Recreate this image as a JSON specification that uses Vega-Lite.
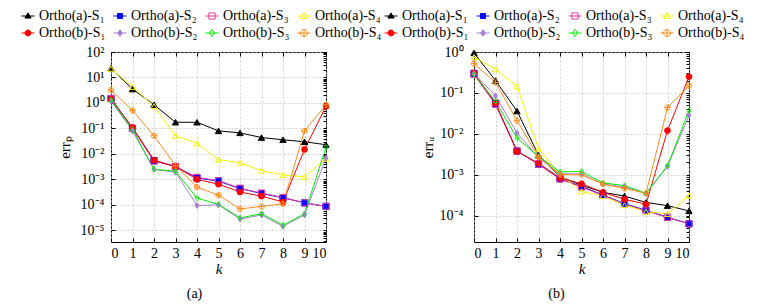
{
"$schema": "https://vega.github.io/schema/vega-lite/v6.json",
"padding": {"left": 20, "top": 8, "right": 5, "bottom": 5},
"background": "white",
"config": {
  "font": "Liberation Serif",
  "view": {"stroke": "#000", "strokeWidth": 1},
  "axis": {"labelFont": "Liberation Serif", "labelFontSize": 14, "labelColor": "#000", "titleFont": "Liberation Serif", "titleFontSize": 15, "titleFontWeight": "normal", "titleColor": "#000", "domain": false, "tickColor": "#000", "gridColor": "#c4c4c4", "gridDash": [2, 2], "gridWidth": 0.8},
  "legend": {"orient": "none", "direction": "horizontal", "legendX": -90, "legendY": -43, "columns": 4, "labelFont": "Liberation Serif", "labelFontSize": 14, "labelColor": "#000", "symbolSize": 100, "symbolStrokeWidth": 1, "columnPadding": 5, "rowPadding": 3, "labelOffset": 4},
  "title": {"font": "Liberation Serif", "fontSize": 14, "fontWeight": "normal", "color": "#000"}
},
"datasets": {
"p": [
{"s":"Ortho(a)-S₁","k":0,"v":23},{"s":"Ortho(a)-S₁","k":1,"v":3.5},{"s":"Ortho(a)-S₁","k":2,"v":0.85},{"s":"Ortho(a)-S₁","k":3,"v":0.175},{"s":"Ortho(a)-S₁","k":4,"v":0.175},{"s":"Ortho(a)-S₁","k":5,"v":0.08},{"s":"Ortho(a)-S₁","k":6,"v":0.067},{"s":"Ortho(a)-S₁","k":7,"v":0.044},{"s":"Ortho(a)-S₁","k":8,"v":0.036},{"s":"Ortho(a)-S₁","k":9,"v":0.03},{"s":"Ortho(a)-S₁","k":10,"v":0.023},
{"s":"Ortho(a)-S₂","k":0,"v":1.5},{"s":"Ortho(a)-S₂","k":1,"v":0.1},{"s":"Ortho(a)-S₂","k":2,"v":0.0055},{"s":"Ortho(a)-S₂","k":3,"v":0.0032},{"s":"Ortho(a)-S₂","k":4,"v":0.00115},{"s":"Ortho(a)-S₂","k":5,"v":0.00085},{"s":"Ortho(a)-S₂","k":6,"v":0.00044},{"s":"Ortho(a)-S₂","k":7,"v":0.00028},{"s":"Ortho(a)-S₂","k":8,"v":0.00019},{"s":"Ortho(a)-S₂","k":9,"v":0.00012},{"s":"Ortho(a)-S₂","k":10,"v":0.000087},
{"s":"Ortho(a)-S₃","k":0,"v":1.5},{"s":"Ortho(a)-S₃","k":1,"v":0.1},{"s":"Ortho(a)-S₃","k":2,"v":0.0052},{"s":"Ortho(a)-S₃","k":3,"v":0.0032},{"s":"Ortho(a)-S₃","k":4,"v":0.0012},{"s":"Ortho(a)-S₃","k":5,"v":0.0009},{"s":"Ortho(a)-S₃","k":6,"v":0.00045},{"s":"Ortho(a)-S₃","k":7,"v":0.00029},{"s":"Ortho(a)-S₃","k":8,"v":0.000195},{"s":"Ortho(a)-S₃","k":9,"v":0.00012},{"s":"Ortho(a)-S₃","k":10,"v":0.000088},
{"s":"Ortho(a)-S₄","k":0,"v":22},{"s":"Ortho(a)-S₄","k":1,"v":4.3},{"s":"Ortho(a)-S₄","k":2,"v":0.75},{"s":"Ortho(a)-S₄","k":3,"v":0.052},{"s":"Ortho(a)-S₄","k":4,"v":0.026},{"s":"Ortho(a)-S₄","k":5,"v":0.006},{"s":"Ortho(a)-S₄","k":6,"v":0.0045},{"s":"Ortho(a)-S₄","k":7,"v":0.0022},{"s":"Ortho(a)-S₄","k":8,"v":0.0015},{"s":"Ortho(a)-S₄","k":9,"v":0.00126},{"s":"Ortho(a)-S₄","k":10,"v":0.0066},
{"s":"Ortho(b)-S₁","k":0,"v":1.4},{"s":"Ortho(b)-S₁","k":1,"v":0.11},{"s":"Ortho(b)-S₁","k":2,"v":0.0057},{"s":"Ortho(b)-S₁","k":3,"v":0.0032},{"s":"Ortho(b)-S₁","k":4,"v":0.001},{"s":"Ortho(b)-S₁","k":5,"v":0.00065},{"s":"Ortho(b)-S₁","k":6,"v":0.00032},{"s":"Ortho(b)-S₁","k":7,"v":0.00022},{"s":"Ortho(b)-S₁","k":8,"v":0.00013},{"s":"Ortho(b)-S₁","k":9,"v":0.015},{"s":"Ortho(b)-S₁","k":10,"v":0.74},
{"s":"Ortho(b)-S₂","k":0,"v":1.2},{"s":"Ortho(b)-S₂","k":1,"v":0.08},{"s":"Ortho(b)-S₂","k":2,"v":0.0025},{"s":"Ortho(b)-S₂","k":3,"v":0.0019},{"s":"Ortho(b)-S₂","k":4,"v":0.000095},{"s":"Ortho(b)-S₂","k":5,"v":0.0001},{"s":"Ortho(b)-S₂","k":6,"v":0.000028},{"s":"Ortho(b)-S₂","k":7,"v":0.00004},{"s":"Ortho(b)-S₂","k":8,"v":0.0000145},{"s":"Ortho(b)-S₂","k":9,"v":0.00004},{"s":"Ortho(b)-S₂","k":10,"v":0.007},
{"s":"Ortho(b)-S₃","k":0,"v":1.3},{"s":"Ortho(b)-S₃","k":1,"v":0.09},{"s":"Ortho(b)-S₃","k":2,"v":0.0025},{"s":"Ortho(b)-S₃","k":3,"v":0.0021},{"s":"Ortho(b)-S₃","k":4,"v":0.000185},{"s":"Ortho(b)-S₃","k":5,"v":0.000105},{"s":"Ortho(b)-S₃","k":6,"v":0.000031},{"s":"Ortho(b)-S₃","k":7,"v":0.000045},{"s":"Ortho(b)-S₃","k":8,"v":0.000016},{"s":"Ortho(b)-S₃","k":9,"v":0.000045},{"s":"Ortho(b)-S₃","k":10,"v":0.018},
{"s":"Ortho(b)-S₄","k":0,"v":3.2},{"s":"Ortho(b)-S₄","k":1,"v":0.51},{"s":"Ortho(b)-S₄","k":2,"v":0.052},{"s":"Ortho(b)-S₄","k":3,"v":0.0034},{"s":"Ortho(b)-S₄","k":4,"v":0.0005},{"s":"Ortho(b)-S₄","k":5,"v":0.00024},{"s":"Ortho(b)-S₄","k":6,"v":0.00007},{"s":"Ortho(b)-S₄","k":7,"v":0.000087},{"s":"Ortho(b)-S₄","k":8,"v":0.00011},{"s":"Ortho(b)-S₄","k":9,"v":0.08},{"s":"Ortho(b)-S₄","k":10,"v":0.85}
],
"u": [
{"s":"Ortho(a)-S₁","k":0,"v":0.95},{"s":"Ortho(a)-S₁","k":1,"v":0.2},{"s":"Ortho(a)-S₁","k":2,"v":0.036},{"s":"Ortho(a)-S₁","k":3,"v":0.003},{"s":"Ortho(a)-S₁","k":4,"v":0.0009},{"s":"Ortho(a)-S₁","k":5,"v":0.00055},{"s":"Ortho(a)-S₁","k":6,"v":0.00037},{"s":"Ortho(a)-S₁","k":7,"v":0.0003},{"s":"Ortho(a)-S₁","k":8,"v":0.00021},{"s":"Ortho(a)-S₁","k":9,"v":0.000175},{"s":"Ortho(a)-S₁","k":10,"v":0.00013},
{"s":"Ortho(a)-S₂","k":0,"v":0.3},{"s":"Ortho(a)-S₂","k":1,"v":0.055},{"s":"Ortho(a)-S₂","k":2,"v":0.0038},{"s":"Ortho(a)-S₂","k":3,"v":0.0018},{"s":"Ortho(a)-S₂","k":4,"v":0.0008},{"s":"Ortho(a)-S₂","k":5,"v":0.00051},{"s":"Ortho(a)-S₂","k":6,"v":0.00032},{"s":"Ortho(a)-S₂","k":7,"v":0.000195},{"s":"Ortho(a)-S₂","k":8,"v":0.000135},{"s":"Ortho(a)-S₂","k":9,"v":0.000091},{"s":"Ortho(a)-S₂","k":10,"v":0.000063},
{"s":"Ortho(a)-S₃","k":0,"v":0.28},{"s":"Ortho(a)-S₃","k":1,"v":0.052},{"s":"Ortho(a)-S₃","k":2,"v":0.0038},{"s":"Ortho(a)-S₃","k":3,"v":0.0018},{"s":"Ortho(a)-S₃","k":4,"v":0.00078},{"s":"Ortho(a)-S₃","k":5,"v":0.0005},{"s":"Ortho(a)-S₃","k":6,"v":0.00031},{"s":"Ortho(a)-S₃","k":7,"v":0.00019},{"s":"Ortho(a)-S₃","k":8,"v":0.00013},{"s":"Ortho(a)-S₃","k":9,"v":0.00009},{"s":"Ortho(a)-S₃","k":10,"v":0.000063},
{"s":"Ortho(a)-S₄","k":0,"v":0.75},{"s":"Ortho(a)-S₄","k":1,"v":0.38},{"s":"Ortho(a)-S₄","k":2,"v":0.145},{"s":"Ortho(a)-S₄","k":3,"v":0.0043},{"s":"Ortho(a)-S₄","k":4,"v":0.001},{"s":"Ortho(a)-S₄","k":5,"v":0.00039},{"s":"Ortho(a)-S₄","k":6,"v":0.0003},{"s":"Ortho(a)-S₄","k":7,"v":0.00018},{"s":"Ortho(a)-S₄","k":8,"v":0.000125},{"s":"Ortho(a)-S₄","k":9,"v":0.00011},{"s":"Ortho(a)-S₄","k":10,"v":0.00031},
{"s":"Ortho(b)-S₁","k":0,"v":0.31},{"s":"Ortho(b)-S₁","k":1,"v":0.056},{"s":"Ortho(b)-S₁","k":2,"v":0.0037},{"s":"Ortho(b)-S₁","k":3,"v":0.0019},{"s":"Ortho(b)-S₁","k":4,"v":0.00083},{"s":"Ortho(b)-S₁","k":5,"v":0.0006},{"s":"Ortho(b)-S₁","k":6,"v":0.00037},{"s":"Ortho(b)-S₁","k":7,"v":0.00025},{"s":"Ortho(b)-S₁","k":8,"v":0.00019},{"s":"Ortho(b)-S₁","k":9,"v":0.012},{"s":"Ortho(b)-S₁","k":10,"v":0.25},
{"s":"Ortho(b)-S₂","k":0,"v":0.3},{"s":"Ortho(b)-S₂","k":1,"v":0.085},{"s":"Ortho(b)-S₂","k":2,"v":0.0105},{"s":"Ortho(b)-S₂","k":3,"v":0.0026},{"s":"Ortho(b)-S₂","k":4,"v":0.00105},{"s":"Ortho(b)-S₂","k":5,"v":0.00105},{"s":"Ortho(b)-S₂","k":6,"v":0.00059},{"s":"Ortho(b)-S₂","k":7,"v":0.0005},{"s":"Ortho(b)-S₂","k":8,"v":0.00035},{"s":"Ortho(b)-S₂","k":9,"v":0.0016},{"s":"Ortho(b)-S₂","k":10,"v":0.028},
{"s":"Ortho(b)-S₃","k":0,"v":0.28},{"s":"Ortho(b)-S₃","k":1,"v":0.062},{"s":"Ortho(b)-S₃","k":2,"v":0.0079},{"s":"Ortho(b)-S₃","k":3,"v":0.0028},{"s":"Ortho(b)-S₃","k":4,"v":0.00117},{"s":"Ortho(b)-S₃","k":5,"v":0.0012},{"s":"Ortho(b)-S₃","k":6,"v":0.00063},{"s":"Ortho(b)-S₃","k":7,"v":0.00054},{"s":"Ortho(b)-S₃","k":8,"v":0.00035},{"s":"Ortho(b)-S₃","k":9,"v":0.00165},{"s":"Ortho(b)-S₃","k":10,"v":0.037},
{"s":"Ortho(b)-S₄","k":0,"v":0.52},{"s":"Ortho(b)-S₄","k":1,"v":0.18},{"s":"Ortho(b)-S₄","k":2,"v":0.021},{"s":"Ortho(b)-S₄","k":3,"v":0.0027},{"s":"Ortho(b)-S₄","k":4,"v":0.001},{"s":"Ortho(b)-S₄","k":5,"v":0.001},{"s":"Ortho(b)-S₄","k":6,"v":0.00059},{"s":"Ortho(b)-S₄","k":7,"v":0.00046},{"s":"Ortho(b)-S₄","k":8,"v":0.00035},{"s":"Ortho(b)-S₄","k":9,"v":0.044},{"s":"Ortho(b)-S₄","k":10,"v":0.15}
]
},
"bounds": "flush",
"spacing": 148,
"resolve": {"scale": {"x": "independent", "y": "independent", "stroke": "independent", "fill": "independent", "shape": "independent", "size": "independent"}, "legend": {"stroke": "independent", "fill": "independent", "shape": "independent", "size": "independent"}},
"hconcat": [
{
  "width": 215, "height": 190,
  "data": {"name": "p"},
  "title": {"text": "(a)", "orient": "bottom", "dx": -24, "offset": 11},
  "resolve": {"scale": {"stroke": "independent", "fill": "independent", "shape": "independent", "size": "independent"}, "axis": {"x": "independent", "y": "independent"}},
  "layer": [
    {"mark": {"type": "line", "strokeWidth": 1},
     "encoding": {
       "x": {"field": "k", "type": "quantitative", "scale": {"domain": [0, 10], "nice": false, "zero": false}, "axis": {"values": [0,1,2,3,4,5,6,7,8,9,10], "format": "d", "grid": true, "tickSize": -4, "labelPadding": 8, "title": "k", "titleFontStyle": "italic", "titlePadding": 1}},
       "y": {"field": "v", "type": "quantitative", "scale": {"type": "log", "domain": [0.0000035, 100], "nice": false}, "axis": {"values": [0.00001, 0.0001, 0.001, 0.01, 0.1, 1, 10, 100], "grid": true, "tickSize": -4, "labelPadding": 11, "labelExpr": "'10' + (round(log(datum.value)/LN10) < 0 ? '⁻' : '') + ['⁰','¹','²','³','⁴','⁵','⁶'][abs(round(log(datum.value)/LN10))]", "title": "errₚ", "titlePadding": 8}},
       "stroke": {"field": "s", "type": "nominal", "legend": null, "scale": {"domain": ["Ortho(a)-S₁","Ortho(a)-S₂","Ortho(a)-S₃","Ortho(a)-S₄","Ortho(b)-S₁","Ortho(b)-S₂","Ortho(b)-S₃","Ortho(b)-S₄"], "range": ["#000000","#0000ff","#e8389a","#f5f500","#ff0000","#a57fd8","#00ee00","#ff8a1a"]}}
     }},
    {"mark": {"type": "point", "opacity": 1, "strokeWidth": 1},
     "encoding": {
       "x": {"field": "k", "type": "quantitative", "axis": {"orient": "top", "values": [0,1,2,3,4,5,6,7,8,9,10], "labels": false, "grid": false, "tickSize": -4, "title": null}},
       "y": {"field": "v", "type": "quantitative", "axis": {"orient": "right", "values": [0.000004,0.000005,0.000006,0.000007,0.000008,0.000009,0.00001,0.00002,0.00003,0.00004,0.00005,0.00006,0.00007,0.00008,0.00009,0.0001,0.0002,0.0003,0.0004,0.0005,0.0006,0.0007,0.0008,0.0009,0.001,0.002,0.003,0.004,0.005,0.006,0.007,0.008,0.009,0.01,0.02,0.03,0.04,0.05,0.06,0.07,0.08,0.09,0.1,0.2,0.3,0.4,0.5,0.6,0.7,0.8,0.9,1,2,3,4,5,6,7,8,9,10,20,30,40,50,60,70,80,90,100], "labels": false, "grid": false, "tickSize": -3, "title": null}},
       "stroke": {"field": "s", "type": "nominal", "legend": null, "scale": {"domain": ["Ortho(a)-S₁","Ortho(a)-S₂","Ortho(a)-S₃","Ortho(a)-S₄","Ortho(b)-S₁","Ortho(b)-S₂","Ortho(b)-S₃","Ortho(b)-S₄"], "range": ["#000000","#0000ff","#e8389a","#f5f500","#ff0000","#a57fd8","#00ee00","#ff8a1a"]}},
       "fill": {"field": "s", "type": "nominal", "legend": null, "scale": {"domain": ["Ortho(a)-S₁","Ortho(a)-S₂","Ortho(a)-S₃","Ortho(a)-S₄","Ortho(b)-S₁","Ortho(b)-S₂","Ortho(b)-S₃","Ortho(b)-S₄"], "range": ["#000000","#0000ff","transparent","transparent","#ff0000","#a57fd8","transparent","transparent"]}},
       "shape": {"field": "s", "type": "nominal", "legend": null, "scale": {"domain": ["Ortho(a)-S₁","Ortho(a)-S₂","Ortho(a)-S₃","Ortho(a)-S₄","Ortho(b)-S₁","Ortho(b)-S₂","Ortho(b)-S₃","Ortho(b)-S₄"], "range": ["triangle-up","square","square","triangle-up","circle","M0,-1L0.7,0L0,1L-0.7,0Z","M0,-1L0.7,0L0,1L-0.7,0Z","M1,0A1,1 0 1 1 -1,0A1,1 0 1 1 1,0ZM-1,0H1M0,-1V1"]}},
       "size": {"field": "s", "type": "nominal", "legend": null, "scale": {"domain": ["Ortho(a)-S₁","Ortho(a)-S₂","Ortho(a)-S₃","Ortho(a)-S₄","Ortho(b)-S₁","Ortho(b)-S₂","Ortho(b)-S₃","Ortho(b)-S₄"], "range": [40, 28, 52, 55, 45, 30, 45, 80]}}
     }},
    {"data": {"values": []},
     "mark": {"type": "point", "opacity": 1, "strokeWidth": 1},
     "encoding": {
       "stroke": {"field": "s", "type": "nominal", "title": null, "scale": {"domain": ["Ortho(a)-S₁","Ortho(a)-S₂","Ortho(a)-S₃","Ortho(a)-S₄","Ortho(b)-S₁","Ortho(b)-S₂","Ortho(b)-S₃","Ortho(b)-S₄"], "range": ["#000000","#0000ff","#e8389a","#f5f500","#ff0000","#a57fd8","#00ee00","#ff8a1a"]}},
       "fill": {"field": "s", "type": "nominal", "title": null, "scale": {"domain": ["Ortho(a)-S₁","Ortho(a)-S₂","Ortho(a)-S₃","Ortho(a)-S₄","Ortho(b)-S₁","Ortho(b)-S₂","Ortho(b)-S₃","Ortho(b)-S₄"], "range": ["#000000","#0000ff","transparent","transparent","#ff0000","#a57fd8","transparent","transparent"]}},
       "shape": {"field": "s", "type": "nominal", "title": null, "scale": {"domain": ["Ortho(a)-S₁","Ortho(a)-S₂","Ortho(a)-S₃","Ortho(a)-S₄","Ortho(b)-S₁","Ortho(b)-S₂","Ortho(b)-S₃","Ortho(b)-S₄"], "range": ["M-1.3,0H1.3M0,-0.62L0.62,0.42L-0.62,0.42Z","M-1.3,0H1.3M-0.5,-0.5H0.5V0.5H-0.5Z","M-1.3,0H1.3M-0.62,-0.62H0.62V0.62H-0.62Z","M-1.3,0H1.3M0,-0.7L0.7,0.48L-0.7,0.48Z","M-1.3,0H1.3M0.6,0A0.6,0.6 0 1 1 -0.6,0A0.6,0.6 0 1 1 0.6,0Z","M-1.3,0H1.3M0,-0.65L0.45,0L0,0.65L-0.45,0Z","M-1.3,0H1.3M0,-0.7L0.5,0L0,0.7L-0.5,0Z","M-1.3,0H1.3M0.7,0A0.7,0.7 0 1 1 -0.7,0A0.7,0.7 0 1 1 0.7,0ZM0,-0.7V0.7"]}}
     }}
  ]
},
{
  "width": 215, "height": 190,
  "data": {"name": "u"},
  "title": {"text": "(b)", "orient": "bottom", "dx": -25, "offset": 11},
  "resolve": {"scale": {"stroke": "independent", "fill": "independent", "shape": "independent", "size": "independent"}, "axis": {"x": "independent", "y": "independent"}},
  "layer": [
    {"mark": {"type": "line", "strokeWidth": 1},
     "encoding": {
       "x": {"field": "k", "type": "quantitative", "scale": {"domain": [0, 10], "nice": false, "zero": false}, "axis": {"values": [0,1,2,3,4,5,6,7,8,9,10], "format": "d", "grid": true, "tickSize": -4, "labelPadding": 8, "title": "k", "titleFontStyle": "italic", "titlePadding": 1}},
       "y": {"field": "v", "type": "quantitative", "scale": {"type": "log", "domain": [0.0000226, 1], "nice": false}, "axis": {"values": [0.0001, 0.001, 0.01, 0.1, 1], "grid": true, "tickSize": -4, "labelPadding": 15, "labelExpr": "'10' + (round(log(datum.value)/LN10) < 0 ? '⁻' : '') + ['⁰','¹','²','³','⁴','⁵','⁶'][abs(round(log(datum.value)/LN10))]", "title": "errᵤ", "titlePadding": 4}},
       "stroke": {"field": "s", "type": "nominal", "legend": null, "scale": {"domain": ["Ortho(a)-S₁","Ortho(a)-S₂","Ortho(a)-S₃","Ortho(a)-S₄","Ortho(b)-S₁","Ortho(b)-S₂","Ortho(b)-S₃","Ortho(b)-S₄"], "range": ["#000000","#0000ff","#e8389a","#f5f500","#ff0000","#a57fd8","#00ee00","#ff8a1a"]}}
     }},
    {"mark": {"type": "point", "opacity": 1, "strokeWidth": 1},
     "encoding": {
       "x": {"field": "k", "type": "quantitative", "axis": {"orient": "top", "values": [0,1,2,3,4,5,6,7,8,9,10], "labels": false, "grid": false, "tickSize": -4, "title": null}},
       "y": {"field": "v", "type": "quantitative", "axis": {"orient": "right", "values": [0.00003,0.00004,0.00005,0.00006,0.00007,0.00008,0.00009,0.0001,0.0002,0.0003,0.0004,0.0005,0.0006,0.0007,0.0008,0.0009,0.001,0.002,0.003,0.004,0.005,0.006,0.007,0.008,0.009,0.01,0.02,0.03,0.04,0.05,0.06,0.07,0.08,0.09,0.1,0.2,0.3,0.4,0.5,0.6,0.7,0.8,0.9,1], "labels": false, "grid": false, "tickSize": -3, "title": null}},
       "stroke": {"field": "s", "type": "nominal", "legend": null, "scale": {"domain": ["Ortho(a)-S₁","Ortho(a)-S₂","Ortho(a)-S₃","Ortho(a)-S₄","Ortho(b)-S₁","Ortho(b)-S₂","Ortho(b)-S₃","Ortho(b)-S₄"], "range": ["#000000","#0000ff","#e8389a","#f5f500","#ff0000","#a57fd8","#00ee00","#ff8a1a"]}},
       "fill": {"field": "s", "type": "nominal", "legend": null, "scale": {"domain": ["Ortho(a)-S₁","Ortho(a)-S₂","Ortho(a)-S₃","Ortho(a)-S₄","Ortho(b)-S₁","Ortho(b)-S₂","Ortho(b)-S₃","Ortho(b)-S₄"], "range": ["#000000","#0000ff","transparent","transparent","#ff0000","#a57fd8","transparent","transparent"]}},
       "shape": {"field": "s", "type": "nominal", "legend": null, "scale": {"domain": ["Ortho(a)-S₁","Ortho(a)-S₂","Ortho(a)-S₃","Ortho(a)-S₄","Ortho(b)-S₁","Ortho(b)-S₂","Ortho(b)-S₃","Ortho(b)-S₄"], "range": ["triangle-up","square","square","triangle-up","circle","M0,-1L0.7,0L0,1L-0.7,0Z","M0,-1L0.7,0L0,1L-0.7,0Z","M1,0A1,1 0 1 1 -1,0A1,1 0 1 1 1,0ZM-1,0H1M0,-1V1"]}},
       "size": {"field": "s", "type": "nominal", "legend": null, "scale": {"domain": ["Ortho(a)-S₁","Ortho(a)-S₂","Ortho(a)-S₃","Ortho(a)-S₄","Ortho(b)-S₁","Ortho(b)-S₂","Ortho(b)-S₃","Ortho(b)-S₄"], "range": [40, 28, 52, 55, 45, 30, 45, 80]}}
     }},
    {"data": {"values": []},
     "mark": {"type": "point", "opacity": 1, "strokeWidth": 1},
     "encoding": {
       "stroke": {"field": "s", "type": "nominal", "title": null, "scale": {"domain": ["Ortho(a)-S₁","Ortho(a)-S₂","Ortho(a)-S₃","Ortho(a)-S₄","Ortho(b)-S₁","Ortho(b)-S₂","Ortho(b)-S₃","Ortho(b)-S₄"], "range": ["#000000","#0000ff","#e8389a","#f5f500","#ff0000","#a57fd8","#00ee00","#ff8a1a"]}},
       "fill": {"field": "s", "type": "nominal", "title": null, "scale": {"domain": ["Ortho(a)-S₁","Ortho(a)-S₂","Ortho(a)-S₃","Ortho(a)-S₄","Ortho(b)-S₁","Ortho(b)-S₂","Ortho(b)-S₃","Ortho(b)-S₄"], "range": ["#000000","#0000ff","transparent","transparent","#ff0000","#a57fd8","transparent","transparent"]}},
       "shape": {"field": "s", "type": "nominal", "title": null, "scale": {"domain": ["Ortho(a)-S₁","Ortho(a)-S₂","Ortho(a)-S₃","Ortho(a)-S₄","Ortho(b)-S₁","Ortho(b)-S₂","Ortho(b)-S₃","Ortho(b)-S₄"], "range": ["M-1.3,0H1.3M0,-0.62L0.62,0.42L-0.62,0.42Z","M-1.3,0H1.3M-0.5,-0.5H0.5V0.5H-0.5Z","M-1.3,0H1.3M-0.62,-0.62H0.62V0.62H-0.62Z","M-1.3,0H1.3M0,-0.7L0.7,0.48L-0.7,0.48Z","M-1.3,0H1.3M0.6,0A0.6,0.6 0 1 1 -0.6,0A0.6,0.6 0 1 1 0.6,0Z","M-1.3,0H1.3M0,-0.65L0.45,0L0,0.65L-0.45,0Z","M-1.3,0H1.3M0,-0.7L0.5,0L0,0.7L-0.5,0Z","M-1.3,0H1.3M0.7,0A0.7,0.7 0 1 1 -0.7,0A0.7,0.7 0 1 1 0.7,0ZM0,-0.7V0.7"]}}
     }}
  ]
}
]
}
